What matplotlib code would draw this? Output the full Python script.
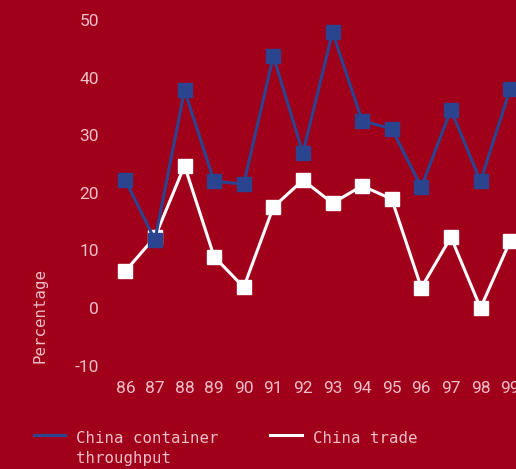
import matplotlib.pyplot as plt
from matplotlib.lines import Line2D

# data
years = [86, 87, 88, 89, 90, 91, 92, 93, 94, 95, 96, 97, 98, 99]
year_labels = ["86", "87", "88", "89", "90", "91", "92", "93", "94", "95", "96", "97", "98", "99"]
container = [22.2, 11.8, 37.8, 22.0, 21.5, 43.7, 26.9, 47.9, 32.5, 31.1, 21.0, 34.4, 22.0, 38.0]
trade = [6.4, 12.3, 24.7, 8.9, 3.6, 17.5, 22.2, 18.2, 21.2, 18.9, 3.5, 12.3, 0.0, 11.6]
yticks = [-10, 0, 10, 20, 30, 40, 50]

bg = "#A1001A"
blue = "#2B4490"
pink = "#EDBFC7"

plt.rcParams["font.family"] = ["Roboto", "DejaVu Sans"]
plt.rcParams["axes.unicode_minus"] = False

fig = plt.figure(figsize=(5.16, 4.69), dpi=100, facecolor=bg)
ax = fig.add_axes([0.197, 0.196, 0.849, 0.786])
ax.set_facecolor(bg)

ax.plot(years, trade, color="white", lw=2.2, marker="s", ms=10.5, zorder=2)
ax.plot(years, container, color=blue, lw=2.2, marker="s", ms=10.5, zorder=3)

ax.set_xlim(85.2, 100)
ax.set_ylim(-12, 52)
ax.set_xticks(years)
ax.set_xticklabels(year_labels)
ax.set_yticks(yticks)
ax.tick_params(length=0, colors=pink, labelsize=12.5)
ax.tick_params(axis="x", pad=3)
ax.tick_params(axis="y", pad=2)
for s in ax.spines.values():
    s.set_visible(False)

mono = "DejaVu Sans Mono"
fig.text(0.078, 0.328, "Percentage", rotation=90, ha="center", va="center",
         color=pink, fontsize=11.3, family=mono)

# legend
fig.add_artist(Line2D([0.066, 0.126], [0.072, 0.072], color=blue, lw=2.2,
                      transform=fig.transFigure))
fig.add_artist(Line2D([0.523, 0.585], [0.072, 0.072], color="white", lw=2.2,
                      transform=fig.transFigure))
fig.text(0.147, 0.081, "China container\nthroughput", ha="left", va="top",
         color=pink, fontsize=11.3, family=mono, linespacing=1.4)
fig.text(0.606, 0.081, "China trade", ha="left", va="top",
         color=pink, fontsize=11.3, family=mono)

fig.savefig("out.png", facecolor=bg)
